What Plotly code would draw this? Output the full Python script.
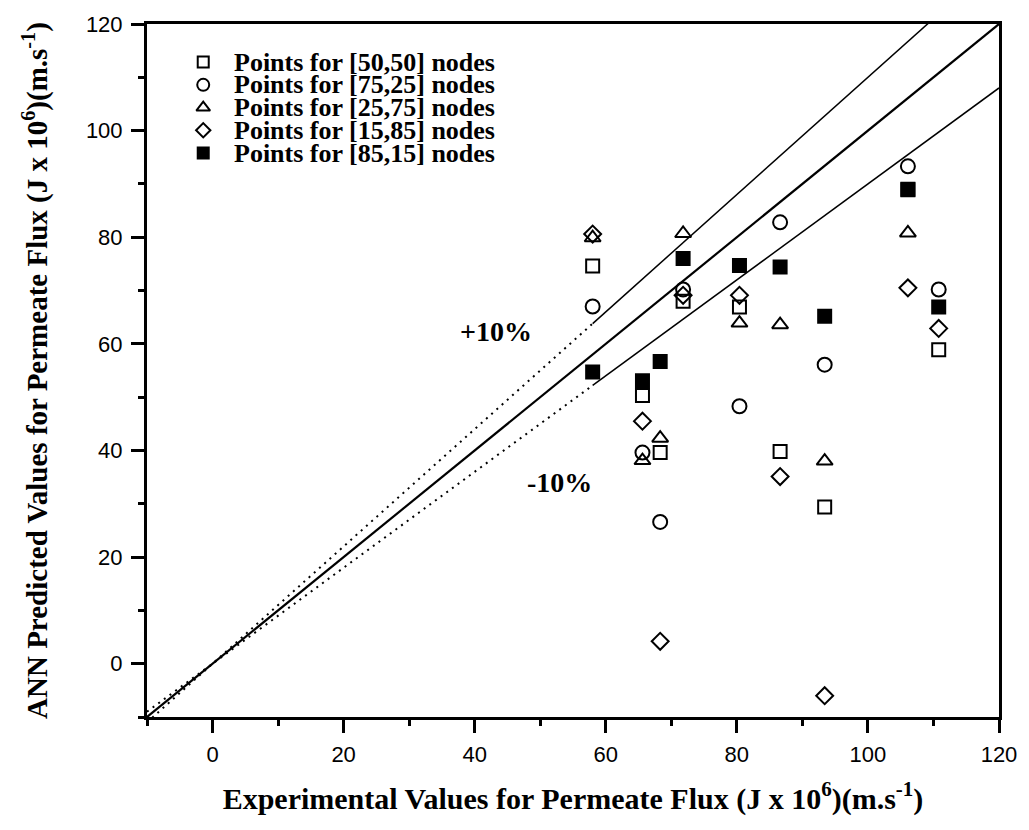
import plotly.graph_objects as go

# ---------------- data ----------------
exp_flux = [58.0, 65.6, 68.3, 71.8, 80.4, 86.6, 93.4, 106.1, 110.8]

series_names = [
    "Points for [50,50] nodes",
    "Points for [75,25] nodes",
    "Points for [25,75] nodes",
    "Points for [15,85] nodes",
    "Points for [85,15] nodes",
]
pred_50_50 = [74.6, 50.3, 39.6, 68.0, 66.9, 39.8, 29.4, 89.0, 58.9]
pred_75_25 = [67.0, 39.6, 26.6, 70.2, 48.3, 82.8, 56.1, 93.3, 70.2]
pred_25_75 = [79.9, 38.1, 42.3, 80.7, 63.9, 63.6, 38.0, 80.8, None]
pred_15_85 = [80.6, 45.5, 4.2, 69.1, 69.1, 35.1, -6.0, 70.5, 62.9]
pred_85_15 = [54.7, 53.1, 56.7, 76.0, 74.7, 74.4, 65.2, 88.9, 66.9]
series_values = [pred_50_50, pred_75_25, pred_25_75, pred_15_85, pred_85_15]

# reference lines (y = x, +10 %, -10 %)
ref_x_full = [-10, 120]
ref_x_extrap = [-10, 58]
ref_x_fit = [58, 120]
band_factors = [1.1, 0.9]
band_labels = ["+10%", "-10%"]
band_label_pos = [(43.2, 62.4), (53.0, 33.9)]

axis_range = [-10, 120]
tick_vals = [0, 20, 40, 60, 80, 100, 120]

# ---------------- styles ----------------
symbols = ["square-open", "circle-open", "triangle-up-open", "diamond-open", "square"]
sizes = [13, 14, 14, 13, 13]
SERIF = "Liberation Serif"
SANS = "Liberation Sans"

fig = go.Figure()

# reference lines
fig.add_trace(go.Scatter(x=ref_x_full, y=[v for v in ref_x_full], mode="lines",
                         line=dict(color="black", width=2.2), showlegend=False,
                         hoverinfo="skip"))
for f in band_factors:
    fig.add_trace(go.Scatter(x=ref_x_extrap, y=[f * v for v in ref_x_extrap], mode="lines",
                             line=dict(color="black", width=2, dash="2px,5px"),
                             showlegend=False, hoverinfo="skip"))
    fig.add_trace(go.Scatter(x=ref_x_fit, y=[f * v for v in ref_x_fit], mode="lines",
                             line=dict(color="black", width=1.5),
                             showlegend=False, hoverinfo="skip"))

# data points
for name, vals, sym, sz in zip(series_names, series_values, symbols, sizes):
    fig.add_trace(go.Scatter(
        x=exp_flux, y=vals, mode="markers", name=name, showlegend=False,
        marker=dict(symbol=sym, size=sz, color="black",
                    line=dict(color="black", width=2)),
    ))

# legend (manual, to match the tight large-font layout)
LEG_X = 0.066
LEG_TEXT_X = 0.100
LEG_Y0 = 0.945
LEG_DY = 0.0328
leg_y = [LEG_Y0 - i * LEG_DY for i in range(len(series_names))]
for i, (name, sym, sz) in enumerate(zip(series_names, symbols, sizes)):
    fig.add_trace(go.Scatter(
        x=[LEG_X], y=[leg_y[i]], xaxis="x2", yaxis="y2", mode="markers",
        showlegend=False, hoverinfo="skip",
        marker=dict(symbol=sym, size=sz - 2, color="black",
                    line=dict(color="black", width=2)),
    ))
    fig.add_annotation(x=LEG_TEXT_X, y=leg_y[i], xref="paper", yref="paper",
                       text=name, showarrow=False, xanchor="left", yanchor="middle",
                       font=dict(family=SERIF, size=26, color="black", weight="bold"))

for lab, (ax_, ay_) in zip(band_labels, band_label_pos):
    fig.add_annotation(x=ax_, y=ay_, xref="x", yref="y", text=lab, showarrow=False,
                       font=dict(family=SERIF, size=28, color="black", weight="bold"))

axis_common = dict(
    range=axis_range, tickvals=tick_vals, ticks="outside", ticklen=13, tickwidth=3,
    tickcolor="black", showline=True, linewidth=3, linecolor="black", mirror=True,
    showgrid=False, zeroline=False,
    tickfont=dict(family=SANS, size=22, color="black"),
    minor=dict(ticks="outside", ticklen=6, tickwidth=3, tickcolor="black",
               dtick=10, tick0=0, showgrid=False),
)

fig.update_layout(
    width=1029, height=830,
    margin=dict(l=147, r=27, t=20, b=113),
    paper_bgcolor="white", plot_bgcolor="white",
    xaxis=dict(**axis_common, ticklabelstandoff=3,
               title=dict(text="Experimental Values for Permeate Flux (J x 10<sup>6</sup>)(m.s<sup>-1</sup>)",
                          font=dict(family=SERIF, size=30, color="black", weight="bold"),
                          standoff=22)),
    yaxis=dict(**axis_common, ticklabelstandoff=4,
               title=dict(text="ANN Predicted Values for Permeate Flux (J x 10<sup>6</sup>)(m.s<sup>-1</sup>)",
                          font=dict(family=SERIF, size=29, color="black", weight="bold"),
                          standoff=30)),
    xaxis2=dict(overlaying="x", range=[0, 1], visible=False, fixedrange=True),
    yaxis2=dict(overlaying="y", range=[0, 1], visible=False, fixedrange=True),
    showlegend=False,
)

fig.write_html("out.html")
